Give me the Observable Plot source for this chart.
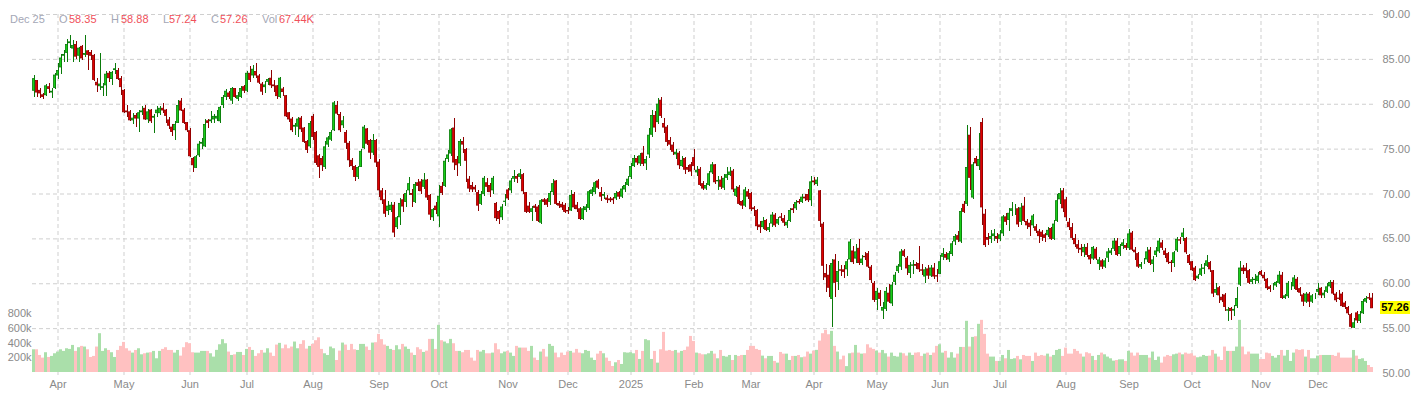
<!DOCTYPE html>
<html><head><meta charset="utf-8">
<script src="https://cdn.jsdelivr.net/npm/d3@7"></script>
<script src="https://cdn.jsdelivr.net/npm/@observablehq/plot@0.6"></script>
<style>
html,body{margin:0;padding:0;background:#fff;}
#wrap{position:relative;width:1419px;height:393px;overflow:hidden;font-family:Arial,"Liberation Sans",sans-serif;background:#fff;}
#wrap svg{position:absolute;left:0;top:0;}
.hdr{position:absolute;top:12px;font-size:11px;line-height:14px;white-space:nowrap;}
#last{position:absolute;left:1380px;width:30px;height:13px;background:#ffff00;color:#000;font-weight:bold;font-size:11px;line-height:13px;text-align:center;}
</style></head><body><div id="wrap"></div>
<script>
// ---------- data ----------
const openP = [
81.5,82.6,81.5,81.0,81.0,81.9,81.3,81.8,83.2,84.1,
85.4,85.7,86.8,86.2,86.6,85.4,86.4,85.5,85.9,85.7,
85.4,82.4,82.0,81.8,82.1,83.4,82.8,83.8,83.7,82.8,
81.5,79.2,79.1,78.2,78.7,78.4,79.1,79.5,78.3,79.3,
78.5,79.0,79.0,79.5,79.3,78.2,77.4,77.1,77.9,80.3,
79.3,77.9,77.0,73.9,72.9,74.3,75.6,75.3,78.1,78.1,
78.3,78.4,78.1,79.9,80.8,81.2,80.4,81.7,80.6,80.8,
81.9,81.5,83.4,83.2,83.6,83.1,82.2,81.9,82.5,82.85,
82.1,82.0,80.8,81.65,80.9,79.0,78.3,77.5,77.5,78.4,
77.3,75.8,75.3,78.6,76.8,74.2,73.9,73.0,75.5,76.05,
77.1,79.8,78.8,77.65,76.8,75.6,73.7,73.0,71.9,73.0,
75.1,77.2,75.9,74.6,75.9,73.5,70.3,69.3,68.1,68.2,
68.7,66.3,67.4,69.3,69.1,70.4,70.0,69.1,71.2,71.3,
70.8,71.5,69.8,67.4,68.6,67.5,70.8,70.9,73.9,74.5,
77.3,73.8,73.4,75.8,74.9,71.6,70.9,70.7,70.1,68.9,
70.0,71.2,70.9,70.4,68.9,68.0,67.4,69.1,70.4,70.4,
71.7,71.9,71.9,72.1,70.1,68.6,68.0,68.6,68.5,66.8,
69.3,69.3,69.1,70.2,71.4,68.9,68.8,68.7,68.1,68.15,
69.9,68.7,68.3,67.2,68.2,68.45,70.0,70.2,71.4,70.1,
69.8,69.5,69.4,69.4,69.5,70.1,69.7,70.5,71.0,71.9,
73.1,73.9,73.4,74.5,73.4,74.4,76.6,78.7,78.0,80.4,
77.8,77.4,75.9,75.4,74.4,74.5,73.1,73.9,72.9,73.2,
74.0,72.4,72.7,71.1,70.6,71.0,72.4,73.2,71.4,71.5,
70.7,71.8,72.1,72.5,69.8,70.7,69.1,68.7,70.2,70.0,
68.4,68.1,66.5,66.3,67.0,66.0,66.7,67.6,66.7,67.4,
67.2,66.5,67.0,68.3,68.4,69.1,69.1,69.6,69.9,69.3,
71.4,71.1,70.3,66.6,61.1,60.9,58.3,62.6,60.2,61.5,
61.5,61.6,62.7,63.6,62.8,63.9,62.3,63.0,63.3,61.8,
60.0,58.2,58.9,57.0,57.2,58.9,57.8,60.2,61.4,61.9,
63.6,62.8,61.2,62.0,62.1,62.2,61.5,60.8,61.6,60.9,
61.7,60.85,61.1,63.0,63.2,62.7,63.3,64.7,65.3,64.7,
68.8,68.9,76.5,69.6,73.9,73.1,77.9,67.7,65.1,65.0,
65.3,65.2,65.0,65.6,67.4,67.1,68.1,68.3,68.3,66.9,
68.6,66.9,66.7,66.5,66.3,65.8,65.7,65.4,65.4,66.1,
65.0,67.0,69.4,70.3,69.3,66.8,66.2,65.0,64.3,63.9,
63.5,64.0,63.1,62.8,63.8,62.2,62.5,61.9,62.9,63.4,
63.9,64.7,63.3,64.2,64.2,64.0,65.6,63.7,63.3,61.9,
62.5,62.7,63.7,62.2,63.2,63.6,64.5,63.6,63.3,62.35,
62.3,63.7,64.85,65.2,65.0,63.1,62.4,61.7,60.6,61.0,
61.65,62.0,62.3,61.4,59.0,59.5,58.45,58.7,57.0,57.2,
57.0,57.5,59.9,61.7,61.7,61.4,60.2,60.4,60.3,61.3,
60.9,60.45,59.6,59.75,59.8,60.1,60.9,58.4,58.6,59.75,
59.7,60.45,59.4,58.7,58.0,58.8,58.0,58.45,59.1,59.45,
58.7,59.1,59.7,60.1,58.8,58.35,58.8,57.8,57.3,56.5,
55.1,56.7,55.85,56.7,58.0,58.4,58.35];
const highP = [
83.2,82.7,81.8,81.2,82.2,82.3,81.8,83.4,84.5,85.5,
86.0,87.2,87.7,87.1,87.0,86.3,86.6,87.7,86.0,86.0,
85.5,82.9,85.7,82.3,83.6,83.6,83.7,84.5,84.0,83.1,
81.6,79.9,79.3,79.0,79.0,79.3,79.7,79.9,79.4,79.4,
78.9,79.8,79.8,80.1,79.4,78.5,77.7,78.1,80.4,80.6,
79.5,78.0,77.3,74.1,74.3,75.8,76.2,78.3,78.3,79.2,
78.9,79.3,79.8,81.0,81.6,81.4,81.9,81.8,81.3,82.0,
82.1,83.6,84.2,84.3,84.5,83.3,82.4,82.5,82.9,83.8,
82.6,82.1,83.0,81.9,81.0,79.1,78.5,77.9,78.5,78.6,
77.4,76.0,78.1,78.9,77.0,74.4,74.2,75.8,76.4,77.1,
80.3,80.3,79.1,78.6,77.1,75.8,73.9,73.2,73.1,75.0,
77.6,77.3,76.1,76.6,76.1,73.8,70.6,70.4,69.2,69.0,
69.0,67.5,69.5,69.9,70.4,71.8,70.5,71.3,71.6,71.6,
72.3,71.6,70.0,68.4,69.0,71.0,71.3,73.9,74.8,77.3,
78.4,74.2,76.1,76.3,75.1,72.0,71.3,71.0,70.4,70.3,
72.0,71.7,71.2,71.9,69.1,68.2,68.8,69.9,70.6,71.7,
72.6,72.2,72.7,72.3,70.2,69.1,68.6,68.8,68.7,69.4,
69.5,69.5,70.3,71.6,71.5,69.2,69.1,68.9,68.5,70.4,
70.2,69.0,68.5,68.6,68.8,70.4,70.7,71.4,71.6,70.7,
70.2,69.8,69.6,69.6,70.3,70.3,70.8,71.3,71.9,73.4,
74.3,74.2,74.5,75.3,74.2,77.3,79.3,79.2,80.6,80.7,
78.4,77.6,76.3,75.7,75.0,74.7,74.2,74.1,73.2,73.5,
75.0,73.1,72.9,71.4,71.2,72.5,73.5,73.3,72.0,72.0,
72.2,72.9,73.0,72.7,70.8,70.9,69.3,70.7,70.5,70.2,
68.6,68.3,66.9,67.4,67.2,66.7,67.9,67.8,67.4,67.8,
67.6,67.1,68.4,68.8,69.3,69.4,70.0,69.9,70.5,72.0,
71.8,71.8,70.4,66.8,62.2,62.0,62.7,63.3,62.5,62.0,
62.0,62.7,64.9,64.2,64.4,64.9,63.2,63.5,63.6,62.0,
60.2,59.5,59.2,57.9,59.6,59.9,60.1,61.2,62.2,63.8,
63.8,63.0,62.4,62.6,62.4,64.1,62.2,61.8,62.0,62.0,
62.3,61.6,63.2,63.9,63.5,63.6,64.7,65.5,65.8,68.4,
69.2,77.6,77.4,73.5,74.2,76.7,78.4,68.3,65.6,65.9,
66.1,65.6,65.9,67.6,67.8,68.4,69.0,68.8,68.5,68.9,
69.6,67.2,67.0,67.7,66.6,66.0,65.9,65.6,66.3,66.3,
67.0,69.9,70.6,70.6,69.6,67.3,66.7,65.5,64.8,64.4,
64.4,64.5,63.3,64.1,64.0,62.9,62.7,62.8,63.9,63.9,
65.0,65.0,64.4,64.9,64.5,66.0,65.8,64.0,63.5,62.4,
62.8,64.0,64.0,63.0,64.0,65.0,64.8,63.9,63.5,62.6,
63.6,65.2,65.2,66.2,65.2,63.3,62.5,61.9,61.0,62.1,
62.3,63.2,62.5,61.5,60.0,59.7,58.8,58.9,57.4,57.4,
57.6,59.6,62.5,62.0,62.3,61.6,60.7,61.0,61.3,61.5,
61.2,60.6,59.8,60.0,60.3,61.4,61.2,58.8,60.2,60.1,
60.9,60.7,59.6,58.9,59.0,59.0,58.8,58.9,60.0,59.6,
59.2,60.0,60.4,60.4,59.0,59.2,59.0,58.0,57.5,56.7,
56.1,56.9,56.9,58.2,58.6,58.9,58.88];
const lowP = [
80.8,80.8,80.6,80.5,80.9,81.2,80.6,81.6,82.8,83.3,
84.7,84.7,86.2,84.7,85.0,84.7,84.9,85.2,83.8,84.9,
82.5,81.3,81.5,80.9,80.9,82.4,82.1,83.3,82.6,81.0,
79.0,78.5,78.1,77.7,77.4,76.9,78.7,78.2,77.9,77.9,
76.7,78.5,78.8,79.0,77.8,77.2,76.4,76.0,77.8,79.2,
77.7,76.8,74.1,72.4,72.8,74.1,75.0,75.2,77.3,77.8,
77.8,78.1,77.8,79.5,80.4,80.5,80.0,80.6,80.3,80.6,
81.2,81.3,82.4,82.9,82.9,82.2,81.0,81.2,82.1,81.8,
81.3,80.5,80.6,80.9,78.5,78.0,76.9,76.5,76.3,76.9,
75.6,74.5,75.1,76.0,73.2,71.7,72.5,72.7,75.2,75.8,
77.0,78.8,76.9,77.3,75.0,73.0,72.6,71.4,71.6,72.9,
75.0,75.4,73.8,74.3,72.9,69.6,68.8,67.4,67.6,67.9,
65.2,66.0,66.5,67.9,68.5,69.8,68.5,68.9,70.3,70.0,
70.5,69.3,67.1,66.9,67.7,66.3,69.8,70.7,73.5,74.2,
72.6,72.0,73.1,74.5,71.3,70.2,70.2,70.2,68.1,68.7,
69.7,70.2,69.6,70.0,66.9,66.6,67.1,68.6,69.3,70.1,
71.3,71.2,71.6,69.9,67.8,67.8,66.9,67.9,66.8,66.6,
68.7,68.5,68.7,69.8,68.7,68.4,68.2,67.8,67.7,68.0,
68.3,67.9,67.0,67.0,67.9,68.2,69.7,70.0,70.5,69.2,
69.4,68.9,69.0,68.8,69.3,69.4,69.5,70.2,70.8,71.6,
72.9,73.2,73.1,73.1,72.6,74.0,76.3,76.8,77.7,78.4,
76.7,75.3,74.8,74.3,73.8,72.7,72.9,72.2,72.4,71.9,
72.6,72.0,70.8,70.4,70.4,70.8,72.2,71.1,70.4,70.5,
70.4,71.5,71.9,70.2,69.6,68.7,68.3,68.5,69.4,68.1,
67.5,65.9,65.6,66.0,65.8,65.7,66.3,66.3,66.5,66.9,
66.4,66.2,66.8,67.8,68.2,68.8,68.9,69.2,69.0,68.6,
70.9,70.8,66.3,60.4,59.0,58.5,55.1,58.5,59.3,60.8,
60.6,60.8,62.4,62.2,62.3,62.0,62.0,62.6,61.7,60.0,
57.9,57.0,57.5,56.0,56.9,57.8,57.5,59.8,61.1,61.5,
62.9,60.9,60.6,61.0,61.6,61.3,60.9,60.0,60.5,60.7,
60.5,60.1,61.0,62.6,62.6,62.4,63.0,64.3,64.6,64.5,
67.8,68.6,70.4,69.4,73.1,72.6,66.5,64.0,64.3,64.5,
64.7,64.5,64.7,65.3,66.5,65.8,67.5,67.6,66.3,66.5,
66.8,66.1,65.3,66.2,65.6,64.5,64.7,64.6,65.1,64.8,
64.8,66.8,68.8,67.9,66.9,65.9,64.8,64.0,63.4,63.0,
62.9,62.9,62.1,62.6,62.6,61.5,61.6,61.7,62.4,63.1,
63.6,63.0,63.0,63.8,63.7,63.7,63.6,62.6,61.7,61.6,
62.1,62.4,62.0,61.3,62.9,63.4,63.7,62.8,62.1,61.3,
61.8,63.5,64.4,64.7,63.3,62.0,61.4,60.2,60.5,60.8,
61.0,61.8,61.2,58.5,58.7,57.8,57.9,56.9,55.8,55.9,
56.4,57.2,59.7,61.0,60.6,59.9,59.9,59.9,60.0,60.8,
60.2,59.3,59.0,59.3,59.6,59.9,58.2,58.2,58.4,59.2,
59.4,59.0,58.6,57.5,57.8,57.3,57.8,58.2,58.7,58.4,
58.4,58.9,59.5,58.7,57.9,58.1,57.3,57.1,56.5,55.0,
55.0,55.6,55.6,56.6,57.8,58.1,57.24];
const closeP = [
82.8,81.3,81.2,80.8,82.0,81.7,81.4,83.2,83.7,85.1,
85.5,86.6,86.9,86.5,85.3,86.2,85.1,85.6,85.5,85.4,
82.7,82.1,82.2,81.9,83.3,82.9,83.5,83.9,82.8,81.9,
79.1,79.1,78.2,78.4,78.4,79.0,79.2,78.3,79.1,78.1,
78.6,79.3,79.5,79.3,78.7,77.6,76.9,77.7,79.8,79.3,
77.9,77.1,74.2,73.2,74.1,75.5,75.7,77.7,77.9,78.2,
78.6,78.6,79.6,80.7,81.4,80.8,81.7,80.8,80.9,81.7,
81.5,83.4,82.7,83.85,83.2,82.4,81.4,82.1,82.7,82.1,
82.0,80.9,82.85,81.35,78.65,78.3,77.1,77.6,78.3,77.2,
75.8,74.9,77.8,76.35,73.45,73.0,73.2,75.2,76.2,76.8,
80.1,78.95,77.1,78.1,75.7,73.75,73.1,71.9,72.9,74.7,
77.4,75.6,74.6,75.9,73.5,70.4,69.3,67.8,68.6,68.7,
65.7,67.3,68.9,68.6,70.0,71.1,69.9,71.0,70.9,70.3,
71.5,69.6,67.7,68.2,68.2,69.7,70.1,73.6,74.3,77.1,
73.5,73.2,75.8,75.5,73.7,70.6,70.5,70.5,68.7,69.9,
71.7,70.8,70.2,71.7,67.3,67.2,68.5,69.15,69.5,71.4,
71.9,71.7,72.2,70.3,68.0,68.0,68.3,68.45,67.0,69.2,
69.1,68.8,70.0,71.1,68.9,68.7,68.5,68.0,68.05,69.8,
68.5,68.3,67.2,68.3,68.5,70.2,70.4,71.2,70.7,69.7,
69.9,69.35,69.3,69.3,70.0,69.7,70.5,70.9,71.6,73.0,
73.9,73.5,74.2,73.35,73.8,76.5,78.7,77.4,79.96,78.7,
77.4,75.8,75.5,74.7,74.6,73.2,73.7,72.7,72.7,72.5,
73.1,72.6,71.0,70.6,70.9,72.2,73.2,71.3,71.45,70.8,
71.7,72.1,72.4,70.5,70.5,68.9,68.7,70.4,69.7,68.3,
68.3,66.4,66.3,66.9,66.0,66.2,67.6,66.5,67.1,67.35,
66.8,66.8,68.1,68.2,69.0,69.05,69.6,69.5,69.3,71.3,
71.3,71.5,67.0,62.0,60.7,59.55,62.2,60.1,61.3,61.45,
61.3,62.4,64.6,62.4,63.5,62.3,62.7,62.95,61.9,60.4,
58.2,59.1,58.3,57.3,59.1,58.0,59.8,60.9,61.9,63.5,
63.1,61.7,62.0,62.05,62.0,61.6,61.45,61.5,60.9,61.7,
60.8,60.8,62.4,63.3,62.9,63.3,64.4,65.2,64.9,68.0,
68.0,72.9,71.8,73.2,73.4,73.8,68.5,64.3,64.9,65.2,
65.5,65.0,65.4,67.4,66.9,67.8,68.3,68.3,66.6,68.4,
67.0,66.5,66.3,67.5,65.9,65.3,65.2,65.1,65.9,65.0,
66.6,69.2,70.0,68.4,67.4,66.3,65.1,64.4,63.9,63.8,
64.0,63.2,62.7,64.0,62.8,62.6,61.9,62.5,63.5,63.6,
64.7,63.2,64.1,64.5,64.0,65.5,63.8,63.5,61.9,62.1,
62.5,63.5,62.3,62.6,63.6,64.7,64.0,63.2,62.4,62.3,
63.4,64.9,64.8,65.6,63.5,62.3,61.5,60.4,60.8,61.6,
61.7,62.5,61.6,58.9,59.3,58.7,58.15,57.4,57.05,56.95,
57.1,58.3,61.7,61.4,61.4,60.1,60.4,60.45,60.8,61.0,
60.6,59.5,59.4,59.75,60.1,60.9,58.4,58.6,60.0,59.75,
60.6,59.3,59.0,58.0,58.8,58.0,58.6,58.45,59.3,58.7,
58.9,59.6,60.1,58.9,58.15,58.3,57.5,57.4,56.7,55.2,
55.6,55.9,56.5,57.96,58.3,58.35,57.26];
// volume, thousands of shares
const volK = [
308,308,231,195,268,204,218,254,
277,308,286,322,313,367,286,336,354,345,308,204,218,345,526,286,322,299,268,204,299,354,
408,322,290,263,299,322,240,254,263,268,286,186,286,313,336,299,299,263,299,222,336,404,
390,268,263,263,286,286,286,254,209,300,376,445,390,277,231,240,272,272,231,
313,340,299,218,254,299,263,322,263,218,372,395,322,372,322,345,413,322,381,431,317,354,
381,431,470,313,254,231,345,322,163,290,399,372,299,381,308,299,381,381,345,299,399,404,
517,445,372,354,313,299,363,308,381,345,313,263,231,336,308,272,290,449,449,313,
639,431,413,390,449,390,286,286,268,299,299,195,154,299,277,299,254,254,263,390,308,254,277,
286,263,218,354,331,331,331,286,354,195,163,277,313,209,381,354,263,200,263,231,
277,286,263,313,263,254,299,286,195,163,249,286,254,195,150,82,132,163,109,268,263,
268,254,299,177,286,445,431,177,286,127,308,544,290,299,286,299,263,286,299,345,489,
422,263,254,240,240,254,286,249,186,299,218,209,231,163,231,218,231,231,299,
354,354,313,299,222,186,218,218,150,127,272,249,249,163,218,218,231,200,209,277,249,
290,300,426,526,572,512,558,354,277,172,222,80,254,263,367,263,249,254,376,331,313,
290,263,299,254,209,263,218,209,263,254,222,263,231,263,268,218,249,263,231,263,354,
376,263,286,195,268,195,249,340,340,694,345,476,485,653,707,517,249,209,209,150,
150,231,186,299,177,186,218,172,231,218,218,150,263,218,231,222,249,209,231,299,313,218,
331,249,249,313,286,249,209,268,254,218,163,231,263,240,209,186,154,163,172,172,150,
286,263,222,263,231,231,231,195,277,163,209,127,209,231,218,240,249,263,240,263,249,
254,222,200,209,231,218,222,299,249,209,163,345,286,286,286,345,707,345,240,277,249,249,249,
177,177,263,254,218,195,231,299,222,299,150,263,308,299,308,209,299,186,186,
222,231,231,231,231,231,218,263,195,195,195,195,299,222,177,186,150,95,67.44];
// first trading day index of each month, and its label
const monthTickIdx = [8,30,52,71,93,115,135,158,178,199,220,239,260,281,302,322,344,365,386,409,428];
const monthTickLabels = ["Apr","May","Jun","Jul","Aug","Sep","Oct","Nov","Dec","2025","Feb","Mar","Apr","May","Jun","Jul","Aug","Sep","Oct","Nov","Dec"];
const priceTicks = [50,55,60,65,70,75,80,85,90];
const priceGrid = [55,60,65,70,75,80,85,90];
const volTicks = [200,400,600,800];
const lastDateLabel = "Dec 25";

// ---------- build ----------
const W = 1419, H = 393;
const n = closeP.length;
const idx = d3.range(n);
const candles = idx.map(i => ({i, o: openP[i], h: highP[i], l: lowP[i], c: closeP[i], v: volK[i], up: closeP[i] >= openP[i]}));
const labelOf = new Map(monthTickIdx.map((d, k) => [d, monthTickLabels[k]]));

const FONT = "Arial, 'Liberation Sans', sans-serif";
const mL = 32, mR = W - 32 - 3 * n;   // 3px per trading day
const upWick = "#0a7a0a", upBody = "#19cf19", dnWick = "#8e0000", dnBody = "#e00000";
const volUp = "#aadfaa", volDn = "#ffc1c1";
const gridC = "#cfcfcf";

const baseStyle = {fontFamily: FONT, fontSize: "11px", color: "#8a8a8a", background: "transparent", overflow: "visible"};
const xBand = {type: "band", domain: idx, padding: 0, align: 0.5};

const gridPlot = Plot.plot({
  width: W, height: H, marginLeft: mL, marginRight: mR, marginTop: 14, marginBottom: 20,
  x: {...xBand}, y: {domain: [50, 90]},
  style: baseStyle,
  marks: [
    Plot.ruleY(priceGrid, {stroke: gridC, strokeDasharray: "4,3"}),
    Plot.ruleX(monthTickIdx, {x: d => d, y1: 90, y2: 49.6, stroke: gridC, strokeDasharray: "4,3"}),
    Plot.axisY({anchor: "right", ticks: priceTicks, tickSize: 0, tickPadding: 9, tickFormat: d => d.toFixed(2), label: null, fontSize: 11}),
    Plot.axisX({anchor: "bottom", ticks: monthTickIdx, tickSize: 0, tickPadding: 7, tickFormat: d => labelOf.get(d), label: null, fontSize: 11})
  ]
});

const volPlot = Plot.plot({
  width: W, height: H, marginLeft: mL, marginRight: mR, marginTop: 313, marginBottom: 21,
  x: {...xBand, axis: null}, y: {domain: [0, 800], axis: null},
  style: baseStyle,
  marks: [
    Plot.barY(candles, {x: "i", y: "v", fill: d => d.up ? volUp : volDn}),
    Plot.axisY({anchor: "left", ticks: volTicks, tickSize: 0, tickPadding: 1, tickFormat: d => d + "k", label: null, fontSize: 11})
  ]
});

const candlePlot = Plot.plot({
  width: W, height: H, marginLeft: mL, marginRight: mR, marginTop: 14, marginBottom: 20,
  x: {...xBand, axis: null}, y: {domain: [50, 90], axis: null},
  style: baseStyle,
  marks: [
    Plot.ruleX(candles, {x: "i", y1: "l", y2: "h", stroke: d => d.up ? upWick : dnWick, strokeWidth: 1, shapeRendering: "crispEdges"}),
    Plot.barY(candles, {x: "i", y1: "o", y2: "c", fill: d => d.up ? upBody : dnBody, stroke: d => d.up ? upWick : dnWick, strokeWidth: 0.8, insetLeft: 0.45, insetRight: 0.45})
  ]
});

const wrap = document.getElementById("wrap");
wrap.appendChild(gridPlot);
wrap.appendChild(volPlot);
wrap.appendChild(candlePlot);

// header (OHLC of last bar)
const last = candles[n - 1];
const lbl = "#a4a7b6", val = "#f0505a";
const hdr = [
  [lastDateLabel, 10, lbl], ["O", 59, lbl], [last.o.toFixed(2), 69, val],
  ["H", 111, lbl], [last.h.toFixed(2), 121, val],
  ["L", 163, lbl], [last.l.toFixed(2), 169, val],
  ["C", 211, lbl], [last.c.toFixed(2), 220, val],
  ["Vol", 262, lbl], [last.v.toFixed(2) + "K", 279, val]
];
for (const [t, x, c] of hdr) {
  const s = document.createElement("div");
  s.className = "hdr"; s.textContent = t; s.style.left = x + "px"; s.style.color = c;
  wrap.appendChild(s);
}
// last price tag
const yLast = candlePlot.scale("y").apply(last.c);
const tag = document.createElement("div");
tag.id = "last"; tag.textContent = last.c.toFixed(2);
tag.style.top = (yLast - 6.5) + "px";
wrap.appendChild(tag);
</script></body></html>
